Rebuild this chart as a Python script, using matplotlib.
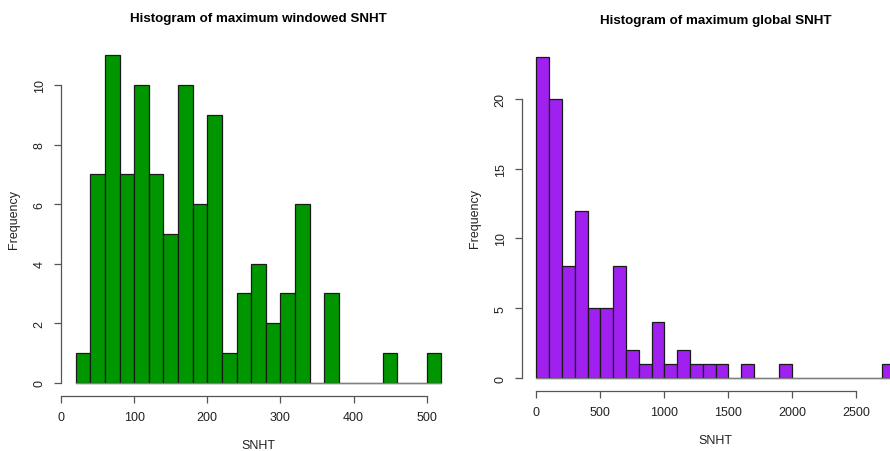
import matplotlib
matplotlib.use("Agg")
import matplotlib.pyplot as plt
import numpy as np

plt.rcParams['font.family'] = ['Liberation Sans', 'DejaVu Sans']

# Left histogram: maximum windowed SNHT (bin width 20)
win_breaks = list(range(20, 540, 20))
win_counts = [1, 7, 11, 7, 10, 7, 5, 10, 6, 9, 1, 3, 4, 2, 3, 6, 0, 3, 0, 0, 0, 1, 0, 0, 1]
win_xticks = [0, 100, 200, 300, 400, 500]
win_yticks = [0, 2, 4, 6, 8, 10]

# Right histogram: maximum global SNHT (bin width 100)
glob_breaks = list(range(0, 2900, 100))
glob_counts = [23, 20, 8, 12, 5, 5, 8, 2, 1, 4, 1, 2, 1, 1, 1, 0, 1, 0, 0, 1,
               0, 0, 0, 0, 0, 0, 0, 1]
glob_xticks = [0, 500, 1000, 1500, 2000, 2500]
glob_yticks = [0, 5, 10, 15, 20]

W, H = 890, 452
fig = plt.figure(figsize=(W / 100, H / 100), dpi=100)


def make_ax(px0, px1, py0, py1):
    return fig.add_axes([px0 / W, 1 - py1 / H, (px1 - px0) / W, (py1 - py0) / H])


def r_hist(ax, breaks, counts, color, xticks, yticks, title):
    b = np.array(breaks, dtype=float)
    c = np.array(counts, dtype=float)
    ax.bar(b[:-1], c, width=np.diff(b), align='edge', color=color,
           edgecolor='#1a1a1a', linewidth=0.9)
    # baseline drawn by zero-height rects in R
    ax.plot([b[0], b[-1]], [0, 0], color='#808080', lw=0.9, zorder=1)
    xr = b[-1] - b[0]
    ax.set_xlim(b[0] - 0.04 * xr, b[-1] + 0.04 * xr)
    ymax = c.max()
    ax.set_ylim(-0.04 * ymax, ymax * 1.04)
    for s in ['top', 'right']:
        ax.spines[s].set_visible(False)
    ax.spines['left'].set_bounds(yticks[0], yticks[-1])
    ax.spines['bottom'].set_bounds(xticks[0], xticks[-1])
    for s in ['left', 'bottom']:
        ax.spines[s].set_color('#555555')
        ax.spines[s].set_linewidth(0.9)
    ax.set_xticks(xticks)
    ax.set_yticks(yticks)
    ax.set_yticklabels([str(v) for v in yticks], rotation=90, va='center')
    ax.tick_params(axis='both', labelsize=9, color='#555555', length=5,
                   width=0.9, labelcolor='#222222')
    ax.tick_params(axis='y', pad=6)
    ax.tick_params(axis='x', pad=6)
    ax.set_xlabel('SNHT', fontsize=9, color='#222222', labelpad=11)
    ax.set_ylabel('Frequency', fontsize=9, color='#222222', labelpad=10)
    ax.set_title(title, fontsize=9.6, fontweight='bold', pad=15)
    ax.patch.set_visible(False)


ax1 = make_ax(61, 456, 43, 397)
r_hist(ax1, win_breaks, win_counts, '#009600', win_xticks, win_yticks,
       'Histogram of maximum windowed SNHT')

ax2 = make_ax(522, 909, 45, 392)
r_hist(ax2, glob_breaks, glob_counts, '#A020F0', glob_xticks, glob_yticks,
       'Histogram of maximum global SNHT')

fig.savefig('out.png', dpi=100)
